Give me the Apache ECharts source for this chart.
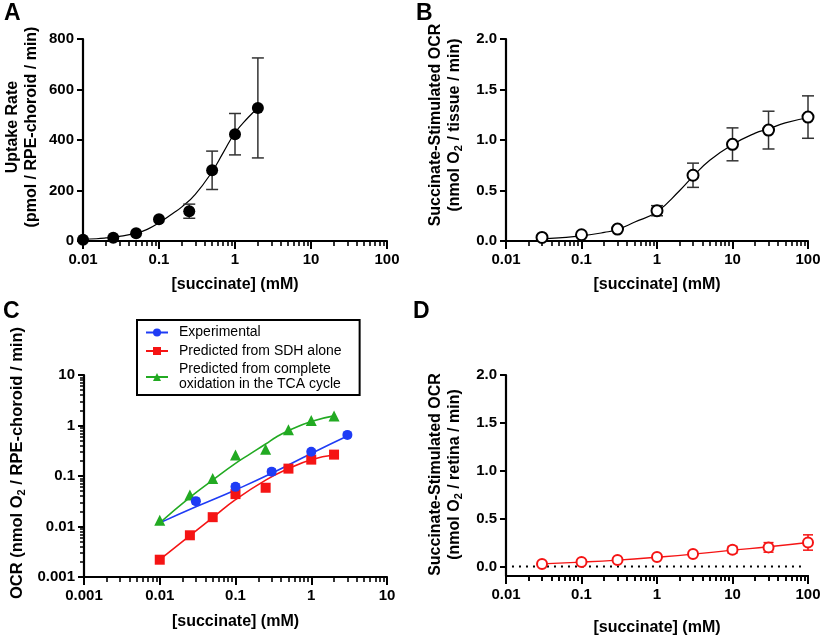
<!DOCTYPE html>
<html><head><meta charset="utf-8">
<script src="https://cdn.jsdelivr.net/npm/echarts@6/dist/echarts.min.js"></script>
<style>html,body{margin:0;padding:0;background:#fff}#c{width:824px;height:638px}</style>
</head><body><div id="c"></div>
<script>
// ---------- Panel A ----------
const A_x = [0.01, 0.025, 0.05, 0.1, 0.25, 0.5, 1, 2];
const A_y = [5, 13, 31, 86, 118, 280, 423, 527];
const A_err = [0, 0, 0, 0, 28, 76, 82, 198];
const A_curveX = [0.01, 0.015, 0.02, 0.03, 0.05, 0.07, 0.1, 0.15, 0.2, 0.3, 0.5, 0.7, 1, 1.5, 2];
const A_curveY = [7, 9, 12, 18, 31, 46, 72, 108, 135, 185, 275, 350, 428, 490, 527];
const A_yTicks = [0, 200, 400, 600, 800];
// ---------- Panel B ----------
const B_x = [0.03, 0.1, 0.3, 1, 3, 10, 30, 100];
const B_y = [0.035, 0.062, 0.118, 0.30, 0.651, 0.957, 1.098, 1.227];
const B_err = [0, 0, 0, 0.05, 0.12, 0.163, 0.187, 0.21];
const B_curveX = [0.03, 0.05, 0.1, 0.2, 0.3, 0.5, 1, 2, 3, 5, 10, 20, 30, 50, 100];
const B_curveY = [0.02, 0.03, 0.05, 0.085, 0.115, 0.185, 0.29, 0.5, 0.64, 0.8, 0.955, 1.068, 1.11, 1.17, 1.22];
const B_yTicks = [0, 0.5, 1.0, 1.5, 2.0];
// ---------- Panel C ----------
const C_names = ['Experimental', 'Predicted from SDH alone', 'Predicted from complete\noxidation in the TCA cycle'];
const C_expX = [0.03, 0.1, 0.3, 1, 3];
const C_expY = [0.0318, 0.061, 0.122, 0.303, 0.652];
const C_expErr = [0.004, 0.009, 0.016, 0.025, 0.05];
const C_expCurveX = [0.01, 0.03, 0.1, 0.3, 1, 3];
const C_expCurveY = [0.0118, 0.0245, 0.053, 0.113, 0.28, 0.62];
const C_predX = [0.01, 0.025, 0.05, 0.1, 0.25, 0.5, 1, 2];
const C_sdhY = [0.0022, 0.0067, 0.0153, 0.0438, 0.0585, 0.14, 0.211, 0.265];
const C_sdhCurveY = [0.0022, 0.0066, 0.015, 0.034, 0.083, 0.14, 0.21, 0.26];
const C_tcaY = [0.0133, 0.042, 0.0897, 0.26, 0.339, 0.82, 1.25, 1.55];
const C_tcaCurveX = [0.01, 0.025, 0.05, 0.1, 0.16, 0.25, 0.35, 0.5, 1, 2];
const C_tcaCurveY = [0.0118, 0.0377, 0.083, 0.178, 0.28, 0.43, 0.6, 0.79, 1.2, 1.55];
const C_xTicks = [0.001, 0.01, 0.1, 1, 10];
const C_yTicks = [0.001, 0.01, 0.1, 1, 10];
// ---------- Panel D ----------
const D_x = [0.03, 0.1, 0.3, 1, 3, 10, 30, 100];
const D_y = [0.025, 0.046, 0.067, 0.098, 0.13, 0.174, 0.199, 0.25];
const D_err = [0.008, 0.008, 0.008, 0.01, 0.012, 0.035, 0.05, 0.08];
const D_curveY = [0.027, 0.045, 0.066, 0.096, 0.128, 0.17, 0.205, 0.25];
const D_yTicks = [0, 0.5, 1.0, 1.5, 2.0];
const D_zeroLineX = [0.012, 85];
const D_zeroLineY = [0, 0];
// shared
const X_ticks = [0.01, 0.1, 1, 10, 100];

const FONT = "'Liberation Sans', Arial, sans-serif";
const BLUE = '#1f3cf5', RED = '#f51414', GREEN = '#22aa22';

function zip(xs, ys) { return xs.map((x, i) => [x, ys[i]]); }
function minorTicks(majors) {
  const out = [];
  for (let i = 0; i < majors.length - 1; i++) for (let k = 2; k <= 9; k++) out.push(+(majors[i] * k).toPrecision(3));
  return out;
}
function fmtNum(v) { return String(+(+v).toPrecision(3)); }
function fmtFixed1(v) { return (+v).toFixed(1); }

const tickLabel = { fontFamily: FONT, fontWeight: 'bold', fontSize: 15, color: '#000' };
function axisLine() { return { show: true, onZero: false, lineStyle: { color: '#000', width: 2.2 } }; }

function logX(grid, majors, name, gap) {
  return {
    type: 'log', logBase: 10, gridIndex: grid, min: majors[0], max: majors[majors.length - 1],
    position: 'bottom', axisLine: axisLine(),
    axisTick: { show: true, length: 8, lineStyle: { width: 2, color: '#000' }, customValues: majors },
    axisLabel: Object.assign({ margin: 11, customValues: majors, formatter: fmtNum }, tickLabel),
    splitLine: { show: false },
    name: name, nameLocation: 'middle', nameGap: gap,
    nameTextStyle: { fontFamily: FONT, fontWeight: 'bold', fontSize: 16, color: '#000' }
  };
}
function minorX(grid, majors) {
  return {
    type: 'log', logBase: 10, gridIndex: grid, min: majors[0], max: majors[majors.length - 1],
    position: 'bottom', axisLine: { show: false, onZero: false },
    axisTick: { show: true, length: 5, lineStyle: { width: 1.6, color: '#000' }, customValues: minorTicks(majors) },
    axisLabel: { show: false }, splitLine: { show: false }
  };
}
const rich = {
  s: { fontFamily: FONT, fontWeight: 'bold', fontSize: 11, color: '#000', verticalAlign: 'bottom', padding: [7, 0, 0, 0] }
};

const gridD = { left: 506, top: 375, width: 302, height: 201 };
const grids = [
  { left: 83, top: 39, width: 304, height: 202 },
  { left: 506, top: 39, width: 302, height: 202 },
  { left: 84, top: 375, width: 303, height: 202 },
  Object.assign({}, gridD),
  Object.assign({}, gridD),   // overlay for D's bottom axis line and ticks
  Object.assign({}, gridD)    // overlay for D's dotted zero line
];

const xAxis = [
  logX(0, X_ticks, '[succinate] (mM)', 36),
  logX(1, X_ticks, '[succinate] (mM)', 36),
  logX(2, C_xTicks, '[succinate] (mM)', 37),
  logX(3, X_ticks, '[succinate] (mM)', 44),
  minorX(0, X_ticks), minorX(1, X_ticks), minorX(2, C_xTicks), minorX(3, X_ticks),
  { type: 'log', logBase: 10, gridIndex: 4, min: 0.01, max: 100, position: 'bottom', axisLine: axisLine(),
    axisTick: { show: true, length: 8, lineStyle: { width: 2, color: '#000' }, customValues: X_ticks },
    axisLabel: { show: false }, splitLine: { show: false } },
  minorX(4, X_ticks),
  { type: 'log', logBase: 10, gridIndex: 5, min: 0.01, max: 100, show: false }
];

function nameStyle(shiftUp, size) {
  return { fontFamily: FONT, fontWeight: 'bold', fontSize: size || 16, lineHeight: 19, color: '#000',
    padding: [0, 0, 0, shiftUp * 2], rich: rich };
}
const yAxis = [
  { type: 'value', gridIndex: 0, min: 0, max: 800, interval: 200, axisLine: axisLine(),
    axisTick: { show: true, length: 6, lineStyle: { width: 2, color: '#000' } },
    axisLabel: Object.assign({ margin: 9 }, tickLabel), splitLine: { show: false },
    name: 'Uptake Rate\n(pmol / RPE-choroid / min)', nameLocation: 'middle', nameGap: 42, nameTextStyle: nameStyle(13) },
  { type: 'value', gridIndex: 1, min: 0, max: 2, interval: 0.5, axisLine: axisLine(),
    axisTick: { show: true, length: 6, lineStyle: { width: 2, color: '#000' } },
    axisLabel: Object.assign({ margin: 9, formatter: fmtFixed1 }, tickLabel), splitLine: { show: false },
    name: 'Succinate-Stimulated OCR\n(nmol O{s|2} / tissue / min)', nameLocation: 'middle', nameGap: 42, nameTextStyle: nameStyle(15) },
  { type: 'log', logBase: 10, gridIndex: 2, min: 0.001, max: 10, position: 'left', axisLine: axisLine(),
    axisTick: { show: true, length: 6, lineStyle: { width: 2, color: '#000' }, customValues: C_yTicks },
    axisLabel: Object.assign({ margin: 9, customValues: C_yTicks, formatter: fmtNum }, tickLabel), splitLine: { show: false },
    name: 'OCR (nmol O{s|2} / RPE-choroid / min)', nameLocation: 'middle', nameGap: 57, nameTextStyle: nameStyle(13, 16.5) },
  { type: 'value', gridIndex: 3, min: -0.1, max: 2, axisLine: axisLine(),
    axisTick: { show: true, length: 6, lineStyle: { width: 2, color: '#000' }, customValues: D_yTicks },
    axisLabel: Object.assign({ margin: 9, customValues: D_yTicks, formatter: fmtFixed1 }, tickLabel), splitLine: { show: false },
    name: 'Succinate-Stimulated OCR\n(nmol O{s|2} / retina / min)', nameLocation: 'middle', nameGap: 42, nameTextStyle: nameStyle(1) },
  { type: 'log', logBase: 10, gridIndex: 2, min: 0.001, max: 10, position: 'left', axisLine: { show: false, onZero: false },
    axisTick: { show: true, length: 4, lineStyle: { width: 1.5, color: '#000' }, customValues: minorTicks(C_yTicks) },
    axisLabel: { show: false }, splitLine: { show: false } },
  { type: 'value', gridIndex: 4, min: 0, max: 1, show: false },
  { type: 'value', gridIndex: 5, min: -0.1, max: 2, show: false }
];

function errSeries(xi, yi, xs, ys, errs, color, cap) {
  return {
    type: 'custom', xAxisIndex: xi, yAxisIndex: yi, silent: true, z: 3,
    data: xs.map((x, i) => [x, ys[i] - errs[i], ys[i] + errs[i], errs[i]]),
    renderItem: function (params, api) {
      if (api.value(3) <= 0) return null;
      const lo = api.coord([api.value(0), api.value(1)]);
      const hi = api.coord([api.value(0), api.value(2)]);
      const st = { stroke: color, lineWidth: 1.5 };
      return { type: 'group', children: [
        { type: 'line', shape: { x1: lo[0], y1: lo[1], x2: hi[0], y2: hi[1] }, style: st },
        { type: 'line', shape: { x1: lo[0] - cap, y1: lo[1], x2: lo[0] + cap, y2: lo[1] }, style: st },
        { type: 'line', shape: { x1: hi[0] - cap, y1: hi[1], x2: hi[0] + cap, y2: hi[1] }, style: st }
      ] };
    }
  };
}
function curve(xi, yi, xs, ys, color, width, name, symbol) {
  return { type: 'line', name: name, xAxisIndex: xi, yAxisIndex: yi, data: zip(xs, ys), smooth: 0.5,
    showSymbol: false, symbol: symbol || 'none', symbolSize: 9, itemStyle: { color: color },
    lineStyle: { color: color, width: width }, z: 2, silent: true };
}
function points(xi, yi, xs, ys, symbol, size, fill, stroke, bw) {
  return { type: 'scatter', xAxisIndex: xi, yAxisIndex: yi, data: zip(xs, ys), symbol: symbol, symbolSize: size,
    itemStyle: { color: fill, borderColor: stroke, borderWidth: bw, opacity: 1 }, z: 4, silent: true };
}

const series = [
  // A
  curve(0, 0, A_curveX, A_curveY, '#000', 1.2),
  errSeries(0, 0, A_x, A_y, A_err, '#333', 6),
  points(0, 0, A_x, A_y, 'circle', 12, '#000', '#000', 0),
  // B
  curve(1, 1, B_curveX, B_curveY, '#000', 1.2),
  errSeries(1, 1, B_x, B_y, B_err, '#333', 6),
  points(1, 1, B_x, B_y, 'circle', 11, '#fff', '#000', 2),
  // C
  curve(2, 2, C_tcaCurveX, C_tcaCurveY, GREEN, 1.6, C_names[2], 'triangle'),
  curve(2, 2, C_predX, C_sdhCurveY, RED, 1.6, C_names[1], 'rect'),
  curve(2, 2, C_expCurveX, C_expCurveY, BLUE, 1.6, C_names[0], 'circle'),
  points(2, 2, C_predX, C_tcaY, 'triangle', 11, GREEN, GREEN, 0),
  points(2, 2, C_predX, C_sdhY, 'rect', 10, RED, RED, 0),
  errSeries(2, 2, C_expX, C_expY, C_expErr, BLUE, 4),
  points(2, 2, C_expX, C_expY, 'circle', 10, BLUE, BLUE, 0),
  // D
  { type: 'line', xAxisIndex: 10, yAxisIndex: 6, data: zip(D_zeroLineX, D_zeroLineY), symbol: 'none',
    lineStyle: { color: '#000', width: 2, type: [2, 5] }, z: 1, silent: true },
  curve(3, 3, D_x, D_curveY, RED, 1.4),
  errSeries(3, 3, D_x, D_y, D_err, RED, 5),
  points(3, 3, D_x, D_y, 'circle', 10, '#fff', RED, 2)
];

const panelLetters = ['A', 'B', 'C', 'D'];
const letterPos = [[4, 2], [416, 2], [3, 300], [413, 300]];
const graphic = panelLetters.map((t, i) => ({
  type: 'text', left: letterPos[i][0], top: letterPos[i][1],
  style: { text: t, font: "bold 23px 'Liberation Sans', Arial, sans-serif", fill: '#000' }
}));

const chart = echarts.init(document.getElementById('c'), null, { renderer: 'canvas' });
chart.setOption({
  animation: false,
  backgroundColor: '#fff',
  grid: grids,
  xAxis: xAxis,
  yAxis: yAxis,
  legend: {
    data: C_names, orient: 'vertical', left: 137, top: 320,
    borderColor: '#000', borderWidth: 2, padding: [5, 18, 3, 8], itemGap: 3.5,
    itemWidth: 22, itemHeight: 10, selectedMode: false,
    textStyle: { fontFamily: FONT, fontSize: 14, lineHeight: 15, color: '#000', padding: [0, 0, 0, 6] }
  },
  series: series,
  graphic: graphic
});
</script></body></html>
